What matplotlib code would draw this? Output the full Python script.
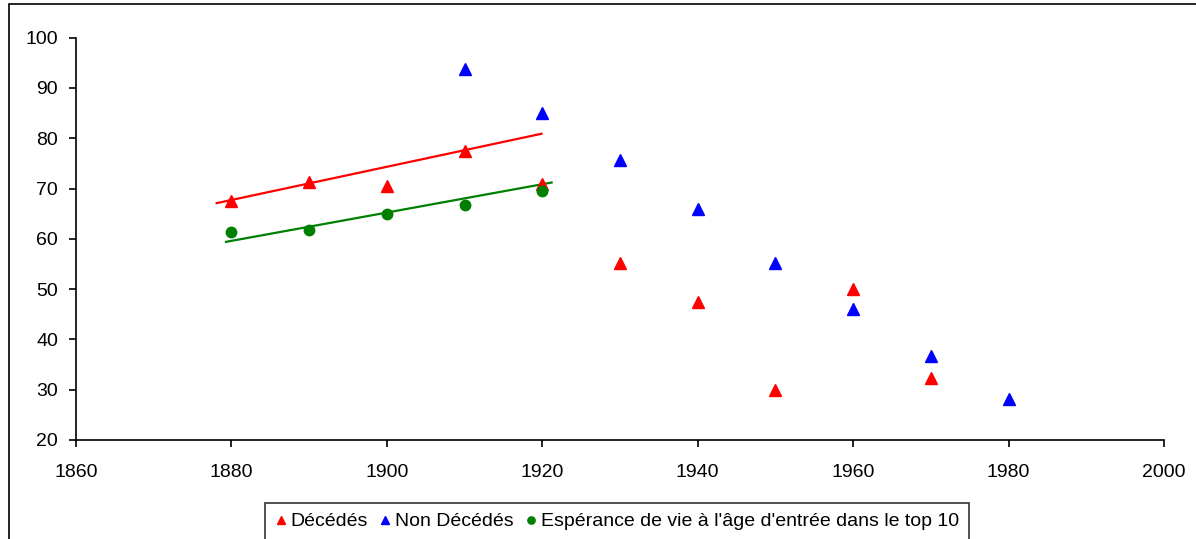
import matplotlib.pyplot as plt
from matplotlib.patches import Rectangle

plt.rcParams['font.family'] = ['Liberation Sans', 'DejaVu Sans']

# decennies et ages
years_dec = [1880, 1890, 1900, 1910, 1920, 1930, 1940, 1950, 1960, 1970]
deces = [67.5, 71.4, 70.6, 77.4, 71.0, 55.2, 47.4, 30.0, 50.0, 32.3]

years_non = [1910, 1920, 1930, 1940, 1950, 1960, 1970, 1980]
non_deces = [93.8, 85.1, 75.6, 65.9, 55.2, 46.0, 36.7, 28.2]

years_esp = [1880, 1890, 1900, 1910, 1920]
esperance = [61.3, 61.7, 64.9, 66.7, 69.6]

# courbes de tendance (extremites)
trend_dec_x = [1878.1, 1919.9]
trend_dec_y = [67.1, 80.9]
trend_esp_x = [1879.3, 1921.2]
trend_esp_y = [59.4, 71.2]

W, H = 1196, 539
fig = plt.figure(figsize=(W / 100, H / 100), dpi=100)
ax = fig.add_axes([76 / W, 1 - 440 / H, (1164 - 76) / W, (440 - 37.7) / H])

# cadre exterieur du graphique
fig.patches.append(Rectangle((8.5 / W, -0.1), 1.2, 1.1 - 4.5 / H,
                             transform=fig.transFigure, fill=False,
                             edgecolor='black', linewidth=1.2))

ax.plot(trend_dec_x, trend_dec_y, color='red', lw=1.6)
ax.plot(trend_esp_x, trend_esp_y, color='green', lw=1.6)

ax.plot(years_dec, deces, '^', color='red', ms=8, ls='none', label='Décédés')
ax.plot(years_non, non_deces, '^', color='blue', ms=8, ls='none', label='Non Décédés')
ax.plot(years_esp, esperance, 'o', color='green', ms=7.5, ls='none',
        label="Espérance de vie à l'âge d'entrée dans le top 10")

ax.set_xlim(1860, 2000)
ax.set_ylim(20, 100)
ax.set_xticks(range(1860, 2001, 20))
ax.set_yticks(range(20, 101, 10))
ax.spines['top'].set_visible(False)
ax.spines['right'].set_visible(False)
for s in ('left', 'bottom'):
    ax.spines[s].set_linewidth(1.2)
ax.tick_params(direction='out', length=5, width=1.2, labelsize=14, pad=8)
ax.tick_params(axis='x', pad=12)

leg = fig.legend(loc='upper left', bbox_to_anchor=(265 / W, 1 - 503 / H),
                 ncol=3, fontsize=14, frameon=True, fancybox=False,
                 handlelength=0.6, handletextpad=0.2, columnspacing=0.6,
                 borderpad=0.5, borderaxespad=0, markerscale=0.7)
leg.get_frame().set_edgecolor('black')
leg.get_frame().set_linewidth(1.2)

fig.savefig('out.png', dpi=100)
